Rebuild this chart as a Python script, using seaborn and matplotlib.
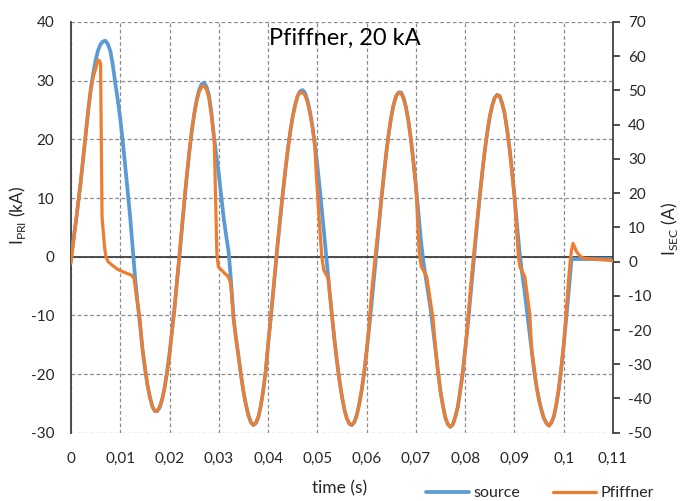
import numpy as np
import pandas as pd
import matplotlib
matplotlib.use("Agg")
import matplotlib.pyplot as plt
import seaborn as sns

# ---------------- data ----------------
# source current (kA, left axis); time in ms
t_source_ms = [0, 0.5, 1, 1.5, 2, 2.5, 3, 3.5, 4, 4.5, 5, 5.5, 6, 6.5, 7, 7.5, 8, 8.5, 9, 9.5,
               10, 10.5, 11, 11.5, 12, 12.5, 13, 13.5, 14, 14.5, 15, 15.5, 16, 16.5, 17, 17.5, 18, 18.5, 19, 19.5,
               20, 20.5, 21, 21.5, 22, 22.5, 23, 23.5, 24, 24.5, 25, 25.5, 26, 26.5, 27, 27.5, 28, 28.5, 29, 29.5,
               30, 30.5, 31, 31.5, 32, 32.5, 33, 33.5, 34, 34.5, 35, 35.5, 36, 36.5, 37, 37.5, 38, 38.5, 39, 39.5,
               40, 40.5, 41, 41.5, 42, 42.5, 43, 43.5, 44, 44.5, 45, 45.5, 46, 46.5, 47, 47.5, 48, 48.5, 49, 49.5,
               50, 50.5, 51, 51.5, 52, 52.5, 53, 53.5, 54, 54.5, 55, 55.5, 56, 56.5, 57, 57.5, 58, 58.5, 59, 59.5,
               60, 60.5, 61, 61.5, 62, 62.5, 63, 63.5, 64, 64.5, 65, 65.5, 66, 66.5, 67, 67.5, 68, 68.5, 69, 69.5,
               70, 70.5, 71, 71.5, 72, 72.5, 73, 73.5, 74, 74.5, 75, 75.5, 76, 76.5, 77, 77.5, 78, 78.5, 79, 79.5,
               80, 80.5, 81, 81.5, 82, 82.5, 83, 83.5, 84, 84.5, 85, 85.5, 86, 86.5, 87, 87.5, 88, 88.5, 89, 89.5,
               90, 90.5, 91, 91.5, 92, 92.5, 93, 93.5, 94, 94.5, 95, 95.5, 96, 96.5, 97, 97.5, 98, 98.5, 99, 99.5,
               100, 100.5, 101, 101.3, 101.6, 102, 103, 105, 107, 110]
source_kA = [0, 3, 6, 9.5, 13, 17, 21, 25, 28.5, 31.2, 33.5, 35.2, 36.2, 36.7, 36.8, 36.2, 35, 32.6, 29.5, 26.7,
             23.5, 19.7, 15.5, 11.2, 6.8, 1.7, -3.5, -7.8, -11.5, -15.7, -19, -21.8, -23.9, -25.5, -26.3, -26.3, -25.7, -24.3, -22.3, -19.6,
             -16.4, -12.7, -8.7, -4.4, 0, 4.7, 9.3, 13.7, 17.7, 21.3, 24.3, 26.7, 28.4, 29.4, 29.6, 29.0, 27.5, 24.5, 20.5, 17.2,
             14, 10.3, 6.5, 3.5, 0.8, -4.5, -10.5, -14, -17, -20.2, -23, -25.2, -27, -28.2, -28.7, -28.4, -27.4, -25.5, -22.9, -19.6,
             -15, -10.8, -6.3, -1.9, 2.6, 6.8, 10.9, 14.7, 18.2, 21.3, 23.9, 25.9, 27.4, 28.2, 28.4, 27.9, 26.6, 24.7, 22.2, 19.1,
             15.5, 11.5, 7.2, 2.7, -1.8, -6.1, -10.4, -14.4, -18.0, -21.2, -23.9, -26.1, -27.6, -28.5, -28.7, -28.2, -27.0, -25.1, -22.7, -19.7,
             -16.1, -12.2, -8.0, -3.6, 0.9, 5.5, 9.9, 14.0, 17.8, 21.1, 23.9, 26.0, 27.4, 28.0, 28.0, 27.1, 25.4, 23.0, 19.9, 16.2,
             12.1, 7.6, 2.9, -0.8, -3.5, -6.2, -9, -12.5, -16, -19.7, -23, -25.5, -27.5, -28.6, -29, -28.6, -27.3, -25.6, -22.8, -19.8,
             -15.8, -12.0, -7.5, -2.8, 1.8, 6.3, 10.6, 14.6, 18.2, 21.3, 23.9, 25.8, 27.1, 27.6, 27.3, 26.2, 24.4, 21.7, 18.5, 14.6,
             10.3, 5.7, 1.0, -2.5, -5.5, -9, -12.5, -16, -19.5, -22.2, -24.5, -26.2, -27.6, -28.4, -28.8, -28.3, -27.2, -25.2, -22.5, -19.0,
             -15, -10.6, -6, -3, -0.2, -0.4, -0.4, -0.4, -0.4, -0.4]

# Pfiffner secondary current (A, right axis); time in ms
t_pfiffner_ms = [0, 0.5, 1, 1.5, 2, 2.5, 3, 3.5, 4, 4.5, 5, 5.5, 5.8, 6.0, 6.3, 6.8, 7.1, 7.5, 8.3, 9.5,
                 11.0, 12.2, 12.8, 13.3, 13.5, 14, 14.5, 15, 15.5, 16, 16.5, 17, 17.5, 18, 18.5, 19, 19.5, 20, 20.5, 21,
                 21.5, 22, 22.5, 23, 23.5, 24, 24.5, 25, 25.5, 26, 26.5, 27, 27.5, 28, 28.5, 29, 29.1, 29.6, 29.9, 30.9,
                 31.9, 32.4, 33, 33.5, 34, 34.5, 35, 35.5, 36, 36.5, 37, 37.5, 38, 38.5, 39, 39.5, 40, 40.5, 41, 41.5,
                 42, 42.5, 43, 43.5, 44, 44.5, 45, 45.5, 46, 46.5, 47, 47.5, 48, 48.5, 49, 49.5, 49.8, 50.6, 50.9, 51.3,
                 52.2, 53, 53.5, 54, 54.5, 55, 55.5, 56, 56.5, 57, 57.5, 58, 58.5, 59, 59.5, 60, 60.5, 61, 61.5, 62,
                 62.5, 63, 63.5, 64, 64.5, 65, 65.5, 66, 66.5, 67, 67.5, 68, 68.5, 69, 69.5, 70, 70.7, 71.1, 72.2, 73.5,
                 74, 74.5, 75, 75.5, 76, 76.5, 77, 77.5, 78, 78.5, 79, 79.5, 80, 80.5, 81, 81.5, 82, 82.5, 83, 83.5,
                 84, 84.5, 85, 85.5, 86, 86.5, 87, 87.5, 88, 88.5, 89, 89.5, 90, 90.8, 91.1, 92.1, 93.1, 93.5, 94, 94.5,
                 95, 95.5, 96, 96.5, 97, 97.5, 98, 98.5, 99, 99.5, 100, 100.4, 101.0, 101.3, 101.6, 101.9, 102.6, 103.3, 104, 105,
                 107, 109, 110]
pfiffner_A = [-0.5, 5.5, 11.5, 17.6, 23.7, 30.5, 37.4, 44, 50, 53.8, 56.3, 58.9, 58.6, 57.9, 13.1, 4.3, 1.4, 0, -1.0, -2.3,
              -3.25, -3.9, -4.9, -10.4, -11.9, -17, -25.5, -30.7, -35.9, -39.5, -42.3, -43.6, -43.7, -42.5, -40.2, -37.0, -32.2, -27.5, -20.3, -14.5,
              -5.5, 2.0, 10, 18, 25.2, 32, 38, 43, 46.8, 49.5, 51.0, 51.4, 50.2, 47.8, 42.8, 36.5, 34, 2.5, -1.5, -3.0,
              -4.4, -6.3, -17, -22.6, -27.7, -33.2, -38, -41.8, -44.9, -46.9, -47.8, -47.3, -45.5, -42.3, -37.8, -32.2, -24.3, -17.1, -9.4, -1.2,
              6.5, 13.5, 20.1, 26.6, 32.6, 38, 42.4, 45.8, 48.4, 49.4, 49.3, 48.6, 46.5, 43.3, 39.5, 33.5, 25, 7.3, 1.4, -2.5,
              -4.9, -16, -23.3, -29.4, -34.9, -39.5, -43.3, -45.9, -47.4, -47.8, -46.9, -44.9, -41.6, -37.5, -32.3, -26.2, -18.5, -9, -2, 5,
              11.5, 18.4, 25.5, 31.9, 37.6, 42.4, 46, 48.4, 49.3, 49.2, 47.6, 45, 40.9, 35.5, 28.8, 22, 2, -1.5, -4.4, -17,
              -26, -32.3, -38, -42.3, -45.7, -47.6, -48.3, -47.6, -45.4, -42.5, -37.7, -32.5, -25.7, -18, -9, -1.5, 6, 12.8, 19.6, 26.5,
              32.6, 38, 42.4, 45.7, 47.9, 48.6, 48.5, 46, 43.3, 38.6, 33.1, 26, 19.1, 1.4, -1.5, -4.4, -15.1, -26, -31, -36.6,
              -40.6, -43.5, -45.9, -47.2, -48, -47.1, -45.2, -41.8, -37.1, -31.1, -24.3, -17, -5, 0, 3.5, 5.3, 2.9, 1.6, 1.0, 0.8,
              0.6, 0.4, 0.2]

x_ticks = [0, 0.01, 0.02, 0.03, 0.04, 0.05, 0.06, 0.07, 0.08, 0.09, 0.10, 0.11]
x_tick_labels = ["0", "0,01", "0,02", "0,03", "0,04", "0,05", "0,06", "0,07", "0,08", "0,09", "0,1", "0,11"]
left_ticks = [-30, -20, -10, 0, 10, 20, 30, 40]
right_ticks = [-50, -40, -30, -20, -10, 0, 10, 20, 30, 40, 50, 60, 70]

title_text = "Pfiffner, 20 kA"
series_names = ["source", "Pfiffner"]

# ---------------- style ----------------
sns.set_style("white")
plt.rcParams["font.family"] = ["Lato", "DejaVu Sans"]
plt.rcParams["mathtext.fontset"] = "custom"
plt.rcParams["mathtext.rm"] = "Lato"

BLUE = "#5B9BD5"
ORANGE = "#ED7D31"
TXT = "#262626"
GRID = "#8c8c8c"

df_src = pd.DataFrame({"t": np.array(t_source_ms) / 1000.0, "v": source_kA})
df_pf = pd.DataFrame({"t": np.array(t_pfiffner_ms) / 1000.0, "v": pfiffner_A})

fig = plt.figure(figsize=(6.82, 5.01), dpi=100)
ax = fig.add_axes([71 / 682, 1 - 432.7 / 501, 542 / 682, 410.7 / 501])
ax2 = ax.twinx()

sns.lineplot(data=df_src, x="t", y="v", ax=ax, color=BLUE, linewidth=2.7,
             estimator=None, sort=False, zorder=3)
sns.lineplot(data=df_pf, x="t", y="v", ax=ax2, color=ORANGE, linewidth=2.3,
             estimator=None, sort=False, zorder=3)

ax.set_xlim(0, 0.11)
ax.set_ylim(-30, 40)
ax2.set_ylim(-50, 70)

ax.set_xticks(x_ticks)
ax.set_xticklabels(x_tick_labels)
ax.set_yticks(left_ticks)
ax.set_yticklabels([str(v) for v in left_ticks])
ax2.set_yticks(right_ticks)
ax2.set_yticklabels([str(v) for v in right_ticks])

# grid
ax.grid(True, which="major", axis="both", color=GRID, linestyle=(0, (3, 2)), linewidth=0.9)
ax.set_axisbelow(True)
ax.axhline(0, color="#404040", linewidth=1.3, zorder=2)

# spines
for s in ["top", "bottom", "right"]:
    ax.spines[s].set_visible(False)
ax.spines["left"].set_color("#404040")
ax.spines["left"].set_linewidth(1.3)
for s in ["top", "bottom", "left"]:
    ax2.spines[s].set_visible(False)
ax2.spines["right"].set_color("#404040")
ax2.spines["right"].set_linewidth(1.3)

ax.tick_params(axis="both", length=0, labelsize=11, labelcolor=TXT)
ax.tick_params(axis="x", pad=14)
ax.tick_params(axis="y", pad=12)
ax2.tick_params(axis="y", length=5, width=1.3, color="#404040", direction="out",
                labelsize=11, labelcolor=TXT, pad=6)

ax.set_xlabel("time (s)", fontsize=12.5, color=TXT, va="center")
ax.xaxis.set_label_coords((340 - 71) / 542, (432.7 - 488) / 410.7)
ax.set_ylabel(r"I$_{\mathregular{PRI}}$ (kA)", fontsize=12.5, color=TXT, va="center")
ax.yaxis.set_label_coords((18 - 71) / 542, (432.7 - 215) / 410.7)
ax2.set_ylabel(r"I$_{\mathregular{SEC}}$ (A)", fontsize=12.5, color=TXT, rotation=90, va="center")
ax2.yaxis.set_label_coords((669 - 71) / 542, (432.7 - 229) / 410.7)

ax.text((345 - 71) / 542, (432.7 - 38) / 410.7, title_text, transform=ax.transAxes,
        ha="center", va="center", fontsize=17, color="#000000")

# legend
h1 = ax.get_lines()[0]
h2 = ax2.get_lines()[0]
fig.legend([h1, h2], series_names, loc="center", ncol=2,
           bbox_to_anchor=(540 / 682, 1 - 493 / 501), frameon=False,
           fontsize=11.5, handlelength=2.7, handletextpad=0.3, columnspacing=2.0,
           borderpad=0, labelcolor=TXT)

fig.savefig("out.png", dpi=100)
